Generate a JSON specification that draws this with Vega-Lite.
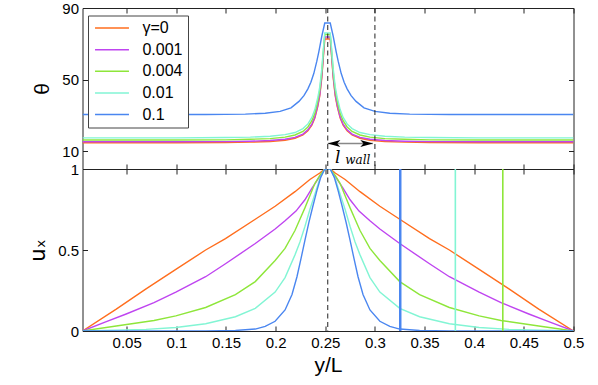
{
  "$schema": "https://vega.github.io/schema/vega-lite/v6.json",
  "padding": {"left": 26.5, "top": 0, "right": 5, "bottom": 0},
  "spacing": 0,
  "bounds": "flush",
  "config": {
    "view": {"stroke": "#222", "strokeWidth": 1},
    "font": "Liberation Sans",
    "axis": {"grid": false, "domain": false, "minExtent": 0, "maxExtent": 200, "labelFlush": false, "tickSize": -5, "tickColor": "#222", "tickWidth": 1, "labelFont": "Liberation Sans", "labelFontSize": 15, "labelColor": "#000", "titleFont": "Liberation Sans", "titleFontWeight": "normal", "titleColor": "#000"},
    "legend": {"labelFont": "Liberation Sans"}
  },
  "datasets": {
    "theta": [
      {"series": "γ=0", "yL": 0.0055, "theta": 14.7}, {"series": "γ=0", "yL": 0.0995, "theta": 14.7}, {"series": "γ=0", "yL": 0.1495, "theta": 14.8}, {"series": "γ=0", "yL": 0.1745, "theta": 15.0}, {"series": "γ=0", "yL": 0.1945, "theta": 15.4}, {"series": "γ=0", "yL": 0.2095, "theta": 16.1}, {"series": "γ=0", "yL": 0.2195, "theta": 17.2}, {"series": "γ=0", "yL": 0.2275, "theta": 19.0}, {"series": "γ=0", "yL": 0.2325, "theta": 21.3}, {"series": "γ=0", "yL": 0.2365, "theta": 24.5}, {"series": "γ=0", "yL": 0.2395, "theta": 28.5}, {"series": "γ=0", "yL": 0.2425, "theta": 35.0}, {"series": "γ=0", "yL": 0.2445, "theta": 41.0}, {"series": "γ=0", "yL": 0.2465, "theta": 51.0}, {"series": "γ=0", "yL": 0.248, "theta": 62.0}, {"series": "γ=0", "yL": 0.2495, "theta": 72.7},
      {"series": "γ=0", "yL": 0.255, "theta": 72.7}, {"series": "γ=0", "yL": 0.2565, "theta": 62.0}, {"series": "γ=0", "yL": 0.258, "theta": 51.0}, {"series": "γ=0", "yL": 0.26, "theta": 41.0}, {"series": "γ=0", "yL": 0.262, "theta": 35.0}, {"series": "γ=0", "yL": 0.265, "theta": 28.5}, {"series": "γ=0", "yL": 0.268, "theta": 24.5}, {"series": "γ=0", "yL": 0.272, "theta": 21.3}, {"series": "γ=0", "yL": 0.277, "theta": 19.0}, {"series": "γ=0", "yL": 0.285, "theta": 17.2}, {"series": "γ=0", "yL": 0.295, "theta": 16.1}, {"series": "γ=0", "yL": 0.31, "theta": 15.4}, {"series": "γ=0", "yL": 0.33, "theta": 15.0}, {"series": "γ=0", "yL": 0.355, "theta": 14.8}, {"series": "γ=0", "yL": 0.405, "theta": 14.7}, {"series": "γ=0", "yL": 0.5, "theta": 14.7},

      {"series": "0.001", "yL": 0.0055, "theta": 15.2}, {"series": "0.001", "yL": 0.0995, "theta": 15.2}, {"series": "0.001", "yL": 0.1495, "theta": 15.3}, {"series": "0.001", "yL": 0.1745, "theta": 15.5}, {"series": "0.001", "yL": 0.1945, "theta": 15.9}, {"series": "0.001", "yL": 0.2095, "theta": 16.6}, {"series": "0.001", "yL": 0.2195, "theta": 17.7}, {"series": "0.001", "yL": 0.2275, "theta": 19.5}, {"series": "0.001", "yL": 0.2325, "theta": 21.9}, {"series": "0.001", "yL": 0.2365, "theta": 25.1}, {"series": "0.001", "yL": 0.2395, "theta": 29.1}, {"series": "0.001", "yL": 0.2425, "theta": 35.7}, {"series": "0.001", "yL": 0.2445, "theta": 41.7}, {"series": "0.001", "yL": 0.2465, "theta": 51.9}, {"series": "0.001", "yL": 0.248, "theta": 63.0}, {"series": "0.001", "yL": 0.2495, "theta": 73.8},
      {"series": "0.001", "yL": 0.255, "theta": 73.8}, {"series": "0.001", "yL": 0.2565, "theta": 63.0}, {"series": "0.001", "yL": 0.258, "theta": 51.9}, {"series": "0.001", "yL": 0.26, "theta": 41.7}, {"series": "0.001", "yL": 0.262, "theta": 35.7}, {"series": "0.001", "yL": 0.265, "theta": 29.1}, {"series": "0.001", "yL": 0.268, "theta": 25.1}, {"series": "0.001", "yL": 0.272, "theta": 21.9}, {"series": "0.001", "yL": 0.277, "theta": 19.5}, {"series": "0.001", "yL": 0.285, "theta": 17.7}, {"series": "0.001", "yL": 0.295, "theta": 16.6}, {"series": "0.001", "yL": 0.31, "theta": 15.9}, {"series": "0.001", "yL": 0.33, "theta": 15.5}, {"series": "0.001", "yL": 0.355, "theta": 15.3}, {"series": "0.001", "yL": 0.405, "theta": 15.2}, {"series": "0.001", "yL": 0.5, "theta": 15.2},

      {"series": "0.004", "yL": 0.0055, "theta": 16.2}, {"series": "0.004", "yL": 0.0995, "theta": 16.2}, {"series": "0.004", "yL": 0.1495, "theta": 16.3}, {"series": "0.004", "yL": 0.1745, "theta": 16.6}, {"series": "0.004", "yL": 0.1945, "theta": 17.0}, {"series": "0.004", "yL": 0.2095, "theta": 17.8}, {"series": "0.004", "yL": 0.2195, "theta": 19.0}, {"series": "0.004", "yL": 0.2275, "theta": 21.0}, {"series": "0.004", "yL": 0.2325, "theta": 23.5}, {"series": "0.004", "yL": 0.2365, "theta": 27.0}, {"series": "0.004", "yL": 0.2395, "theta": 31.2}, {"series": "0.004", "yL": 0.2425, "theta": 38.0}, {"series": "0.004", "yL": 0.2445, "theta": 44.2}, {"series": "0.004", "yL": 0.2465, "theta": 54.3}, {"series": "0.004", "yL": 0.248, "theta": 65.2}, {"series": "0.004", "yL": 0.2495, "theta": 75.2},
      {"series": "0.004", "yL": 0.255, "theta": 75.2}, {"series": "0.004", "yL": 0.2565, "theta": 65.2}, {"series": "0.004", "yL": 0.258, "theta": 54.3}, {"series": "0.004", "yL": 0.26, "theta": 44.2}, {"series": "0.004", "yL": 0.262, "theta": 38.0}, {"series": "0.004", "yL": 0.265, "theta": 31.2}, {"series": "0.004", "yL": 0.268, "theta": 27.0}, {"series": "0.004", "yL": 0.272, "theta": 23.5}, {"series": "0.004", "yL": 0.277, "theta": 21.0}, {"series": "0.004", "yL": 0.285, "theta": 19.0}, {"series": "0.004", "yL": 0.295, "theta": 17.8}, {"series": "0.004", "yL": 0.31, "theta": 17.0}, {"series": "0.004", "yL": 0.33, "theta": 16.6}, {"series": "0.004", "yL": 0.355, "theta": 16.3}, {"series": "0.004", "yL": 0.405, "theta": 16.2}, {"series": "0.004", "yL": 0.5, "theta": 16.2},

      {"series": "0.01", "yL": 0.0055, "theta": 17.4}, {"series": "0.01", "yL": 0.0995, "theta": 17.4}, {"series": "0.01", "yL": 0.1495, "theta": 17.6}, {"series": "0.01", "yL": 0.1745, "theta": 17.8}, {"series": "0.01", "yL": 0.1945, "theta": 18.3}, {"series": "0.01", "yL": 0.2095, "theta": 19.2}, {"series": "0.01", "yL": 0.2195, "theta": 20.4}, {"series": "0.01", "yL": 0.2275, "theta": 22.6}, {"series": "0.01", "yL": 0.2325, "theta": 25.2}, {"series": "0.01", "yL": 0.2365, "theta": 28.8}, {"series": "0.01", "yL": 0.2395, "theta": 33.2}, {"series": "0.01", "yL": 0.2425, "theta": 40.0}, {"series": "0.01", "yL": 0.2445, "theta": 46.1}, {"series": "0.01", "yL": 0.2465, "theta": 56.1}, {"series": "0.01", "yL": 0.248, "theta": 66.6}, {"series": "0.01", "yL": 0.2495, "theta": 76.0},
      {"series": "0.01", "yL": 0.255, "theta": 76.0}, {"series": "0.01", "yL": 0.2565, "theta": 66.6}, {"series": "0.01", "yL": 0.258, "theta": 56.1}, {"series": "0.01", "yL": 0.26, "theta": 46.1}, {"series": "0.01", "yL": 0.262, "theta": 40.0}, {"series": "0.01", "yL": 0.265, "theta": 33.2}, {"series": "0.01", "yL": 0.268, "theta": 28.8}, {"series": "0.01", "yL": 0.272, "theta": 25.2}, {"series": "0.01", "yL": 0.277, "theta": 22.6}, {"series": "0.01", "yL": 0.285, "theta": 20.4}, {"series": "0.01", "yL": 0.295, "theta": 19.2}, {"series": "0.01", "yL": 0.31, "theta": 18.3}, {"series": "0.01", "yL": 0.33, "theta": 17.8}, {"series": "0.01", "yL": 0.355, "theta": 17.6}, {"series": "0.01", "yL": 0.405, "theta": 17.4}, {"series": "0.01", "yL": 0.5, "theta": 17.4},

      {"series": "0.1", "yL": 0.0055, "theta": 30.5}, {"series": "0.1", "yL": 0.1295, "theta": 30.5}, {"series": "0.1", "yL": 0.1695, "theta": 30.7}, {"series": "0.1", "yL": 0.1895, "theta": 31.2}, {"series": "0.1", "yL": 0.2045, "theta": 32.2}, {"series": "0.1", "yL": 0.2155, "theta": 34.2}, {"series": "0.1", "yL": 0.2235, "theta": 37.8}, {"series": "0.1", "yL": 0.2285, "theta": 41.0}, {"series": "0.1", "yL": 0.2325, "theta": 44.8}, {"series": "0.1", "yL": 0.2355, "theta": 48.5}, {"series": "0.1", "yL": 0.2385, "theta": 53.5}, {"series": "0.1", "yL": 0.2415, "theta": 60.3}, {"series": "0.1", "yL": 0.2435, "theta": 65.5}, {"series": "0.1", "yL": 0.2465, "theta": 74.2}, {"series": "0.1", "yL": 0.2495, "theta": 81.6},
      {"series": "0.1", "yL": 0.255, "theta": 81.6}, {"series": "0.1", "yL": 0.258, "theta": 74.2}, {"series": "0.1", "yL": 0.261, "theta": 65.5}, {"series": "0.1", "yL": 0.263, "theta": 60.3}, {"series": "0.1", "yL": 0.266, "theta": 53.5}, {"series": "0.1", "yL": 0.269, "theta": 48.5}, {"series": "0.1", "yL": 0.272, "theta": 44.8}, {"series": "0.1", "yL": 0.276, "theta": 41.0}, {"series": "0.1", "yL": 0.281, "theta": 37.8}, {"series": "0.1", "yL": 0.289, "theta": 34.2}, {"series": "0.1", "yL": 0.3, "theta": 32.2}, {"series": "0.1", "yL": 0.315, "theta": 31.2}, {"series": "0.1", "yL": 0.335, "theta": 30.7}, {"series": "0.1", "yL": 0.375, "theta": 30.5}, {"series": "0.1", "yL": 0.5, "theta": 30.5}
    ],
    "ux": [
      {"series": "γ=0", "yL": 0.0055, "ux": 0}, {"series": "γ=0", "yL": 0.0395, "ux": 0.135}, {"series": "γ=0", "yL": 0.0695, "ux": 0.26}, {"series": "γ=0", "yL": 0.0995, "ux": 0.38}, {"series": "γ=0", "yL": 0.1295, "ux": 0.5}, {"series": "γ=0", "yL": 0.1495, "ux": 0.57}, {"series": "γ=0", "yL": 0.1795, "ux": 0.69}, {"series": "γ=0", "yL": 0.1995, "ux": 0.77}, {"series": "γ=0", "yL": 0.2195, "ux": 0.86}, {"series": "γ=0", "yL": 0.2345, "ux": 0.935}, {"series": "γ=0", "yL": 0.2445, "ux": 0.975}, {"series": "γ=0", "yL": 0.2495, "ux": 1},
      {"series": "γ=0", "yL": 0.255, "ux": 1}, {"series": "γ=0", "yL": 0.26, "ux": 0.975}, {"series": "γ=0", "yL": 0.27, "ux": 0.935}, {"series": "γ=0", "yL": 0.285, "ux": 0.86}, {"series": "γ=0", "yL": 0.305, "ux": 0.77}, {"series": "γ=0", "yL": 0.325, "ux": 0.69}, {"series": "γ=0", "yL": 0.355, "ux": 0.57}, {"series": "γ=0", "yL": 0.375, "ux": 0.5}, {"series": "γ=0", "yL": 0.405, "ux": 0.38}, {"series": "γ=0", "yL": 0.435, "ux": 0.26}, {"series": "γ=0", "yL": 0.465, "ux": 0.135}, {"series": "γ=0", "yL": 0.5, "ux": 0},

      {"series": "0.001", "yL": 0.0055, "ux": 0}, {"series": "0.001", "yL": 0.0295, "ux": 0.058}, {"series": "0.001", "yL": 0.0495, "ux": 0.105}, {"series": "0.001", "yL": 0.0775, "ux": 0.175}, {"series": "0.001", "yL": 0.0995, "ux": 0.24}, {"series": "0.001", "yL": 0.1295, "ux": 0.335}, {"series": "0.001", "yL": 0.1495, "ux": 0.415}, {"series": "0.001", "yL": 0.1795, "ux": 0.54}, {"series": "0.001", "yL": 0.1995, "ux": 0.63}, {"series": "0.001", "yL": 0.2095, "ux": 0.68}, {"series": "0.001", "yL": 0.2205, "ux": 0.74}, {"series": "0.001", "yL": 0.2295, "ux": 0.81}, {"series": "0.001", "yL": 0.2365, "ux": 0.88}, {"series": "0.001", "yL": 0.2445, "ux": 0.955}, {"series": "0.001", "yL": 0.2495, "ux": 1},
      {"series": "0.001", "yL": 0.255, "ux": 1}, {"series": "0.001", "yL": 0.26, "ux": 0.955}, {"series": "0.001", "yL": 0.268, "ux": 0.88}, {"series": "0.001", "yL": 0.275, "ux": 0.81}, {"series": "0.001", "yL": 0.284, "ux": 0.74}, {"series": "0.001", "yL": 0.295, "ux": 0.68}, {"series": "0.001", "yL": 0.305, "ux": 0.63}, {"series": "0.001", "yL": 0.325, "ux": 0.54}, {"series": "0.001", "yL": 0.355, "ux": 0.415}, {"series": "0.001", "yL": 0.375, "ux": 0.335}, {"series": "0.001", "yL": 0.405, "ux": 0.24}, {"series": "0.001", "yL": 0.427, "ux": 0.175}, {"series": "0.001", "yL": 0.455, "ux": 0.105}, {"series": "0.001", "yL": 0.475, "ux": 0.058}, {"series": "0.001", "yL": 0.5, "ux": 0},

      {"series": "0.004", "yL": 0.0055, "ux": 0}, {"series": "0.004", "yL": 0.0395, "ux": 0.031}, {"series": "0.004", "yL": 0.0775, "ux": 0.065}, {"series": "0.004", "yL": 0.0995, "ux": 0.093}, {"series": "0.004", "yL": 0.1295, "ux": 0.145}, {"series": "0.004", "yL": 0.1595, "ux": 0.225}, {"series": "0.004", "yL": 0.1795, "ux": 0.305}, {"series": "0.004", "yL": 0.1995, "ux": 0.435}, {"series": "0.004", "yL": 0.2095, "ux": 0.51}, {"series": "0.004", "yL": 0.2195, "ux": 0.62}, {"series": "0.004", "yL": 0.2295, "ux": 0.76}, {"series": "0.004", "yL": 0.2345, "ux": 0.835}, {"series": "0.004", "yL": 0.2395, "ux": 0.91}, {"series": "0.004", "yL": 0.2445, "ux": 0.96}, {"series": "0.004", "yL": 0.2495, "ux": 1},
      {"series": "0.004", "yL": 0.255, "ux": 1}, {"series": "0.004", "yL": 0.26, "ux": 0.96}, {"series": "0.004", "yL": 0.265, "ux": 0.91}, {"series": "0.004", "yL": 0.27, "ux": 0.835}, {"series": "0.004", "yL": 0.275, "ux": 0.76}, {"series": "0.004", "yL": 0.285, "ux": 0.62}, {"series": "0.004", "yL": 0.295, "ux": 0.51}, {"series": "0.004", "yL": 0.305, "ux": 0.435}, {"series": "0.004", "yL": 0.325, "ux": 0.305}, {"series": "0.004", "yL": 0.345, "ux": 0.225}, {"series": "0.004", "yL": 0.375, "ux": 0.145}, {"series": "0.004", "yL": 0.405, "ux": 0.093}, {"series": "0.004", "yL": 0.427, "ux": 0.065}, {"series": "0.004", "yL": 0.465, "ux": 0.031}, {"series": "0.004", "yL": 0.5, "ux": 0},

      {"series": "0.01", "yL": 0.0055, "ux": 0}, {"series": "0.01", "yL": 0.0695, "ux": 0.01}, {"series": "0.01", "yL": 0.0995, "ux": 0.022}, {"series": "0.01", "yL": 0.1295, "ux": 0.045}, {"series": "0.01", "yL": 0.1595, "ux": 0.088}, {"series": "0.01", "yL": 0.1795, "ux": 0.14}, {"series": "0.01", "yL": 0.1995, "ux": 0.24}, {"series": "0.01", "yL": 0.2095, "ux": 0.33}, {"series": "0.01", "yL": 0.2195, "ux": 0.47}, {"series": "0.01", "yL": 0.2245, "ux": 0.55}, {"series": "0.01", "yL": 0.2295, "ux": 0.645}, {"series": "0.01", "yL": 0.2345, "ux": 0.75}, {"series": "0.01", "yL": 0.2395, "ux": 0.845}, {"series": "0.01", "yL": 0.2445, "ux": 0.94}, {"series": "0.01", "yL": 0.2495, "ux": 1},
      {"series": "0.01", "yL": 0.255, "ux": 1}, {"series": "0.01", "yL": 0.26, "ux": 0.94}, {"series": "0.01", "yL": 0.265, "ux": 0.845}, {"series": "0.01", "yL": 0.27, "ux": 0.75}, {"series": "0.01", "yL": 0.275, "ux": 0.645}, {"series": "0.01", "yL": 0.28, "ux": 0.55}, {"series": "0.01", "yL": 0.285, "ux": 0.47}, {"series": "0.01", "yL": 0.295, "ux": 0.33}, {"series": "0.01", "yL": 0.305, "ux": 0.24}, {"series": "0.01", "yL": 0.325, "ux": 0.14}, {"series": "0.01", "yL": 0.345, "ux": 0.088}, {"series": "0.01", "yL": 0.375, "ux": 0.045}, {"series": "0.01", "yL": 0.405, "ux": 0.022}, {"series": "0.01", "yL": 0.435, "ux": 0.01}, {"series": "0.01", "yL": 0.5, "ux": 0},

      {"series": "0.1", "yL": 0.0055, "ux": 0}, {"series": "0.1", "yL": 0.1295, "ux": 0}, {"series": "0.1", "yL": 0.1595, "ux": 0.003}, {"series": "0.1", "yL": 0.1795, "ux": 0.012}, {"series": "0.1", "yL": 0.1895, "ux": 0.028}, {"series": "0.1", "yL": 0.1995, "ux": 0.06}, {"series": "0.1", "yL": 0.2095, "ux": 0.13}, {"series": "0.1", "yL": 0.2165, "ux": 0.225}, {"series": "0.1", "yL": 0.2215, "ux": 0.335}, {"series": "0.1", "yL": 0.2255, "ux": 0.445}, {"series": "0.1", "yL": 0.2295, "ux": 0.56}, {"series": "0.1", "yL": 0.2335, "ux": 0.67}, {"series": "0.1", "yL": 0.2375, "ux": 0.77}, {"series": "0.1", "yL": 0.2415, "ux": 0.865}, {"series": "0.1", "yL": 0.2455, "ux": 0.95}, {"series": "0.1", "yL": 0.2495, "ux": 1},
      {"series": "0.1", "yL": 0.255, "ux": 1}, {"series": "0.1", "yL": 0.259, "ux": 0.95}, {"series": "0.1", "yL": 0.263, "ux": 0.865}, {"series": "0.1", "yL": 0.267, "ux": 0.77}, {"series": "0.1", "yL": 0.271, "ux": 0.67}, {"series": "0.1", "yL": 0.275, "ux": 0.56}, {"series": "0.1", "yL": 0.279, "ux": 0.445}, {"series": "0.1", "yL": 0.283, "ux": 0.335}, {"series": "0.1", "yL": 0.288, "ux": 0.225}, {"series": "0.1", "yL": 0.295, "ux": 0.13}, {"series": "0.1", "yL": 0.305, "ux": 0.06}, {"series": "0.1", "yL": 0.315, "ux": 0.028}, {"series": "0.1", "yL": 0.325, "ux": 0.012}, {"series": "0.1", "yL": 0.345, "ux": 0.003}, {"series": "0.1", "yL": 0.375, "ux": 0}, {"series": "0.1", "yL": 0.5, "ux": 0}
    ],
    "topDashes": [{"yL": 0.2525}, {"yL": 0.3}],
    "bottomDashes": [{"yL": 0.2525}],
    "arrow": [{"from": 0.2525, "to": 0.298, "theta": 14.3}],
    "heads": [{"yL": 0.2525, "theta": 14.3, "dir": "left"}, {"yL": 0.298, "theta": 14.3, "dir": "right"}],
    "lbl": [{"yL": 0.2626, "theta": 3.5, "text": "l"}],
    "sub": [{"yL": 0.2701, "theta": 3.0, "text": "wall"}],
    "lengths": [{"series": "0.1", "yL": 0.3255}, {"series": "0.01", "yL": 0.381}, {"series": "0.004", "yL": 0.4288}]
  },
  "vconcat": [
    {
      "width": 491,
      "height": 161,
      "layer": [
        {
          "data": {"name": "theta"},
          "mark": {"type": "line", "strokeWidth": 1.4, "clip": true},
          "encoding": {
            "x": {"field": "yL", "type": "quantitative", "scale": {"domain": [0.0055, 0.5], "nice": false, "zero": false},
                  "axis": {"orient": "bottom", "labels": false, "title": null, "values": [0.05, 0.1, 0.15, 0.2, 0.25, 0.3, 0.35, 0.4, 0.45, 0.5]}},
            "y": {"field": "theta", "type": "quantitative", "scale": {"domain": [0, 90], "nice": false, "zero": false},
                  "axis": {"orient": "left", "values": [10, 50, 90], "labelPadding": 9, "title": "θ", "titleFontSize": 21, "titleX": -40, "titleBaseline": "middle"}},
            "color": {"field": "series", "type": "nominal",
                      "scale": {"domain": ["γ=0", "0.001", "0.004", "0.01", "0.1"], "range": ["#FF6E1E", "#BF45F0", "#8EE63A", "#82F5D4", "#4A86F0"]},
                      "legend": {"orient": "none", "legendX": 5.5, "legendY": 7.5, "title": null, "padding": 4.6, "fillColor": "#fff", "strokeColor": "#444",
                                 "symbolType": "M-4,0L4,0", "symbolSize": 72, "symbolStrokeWidth": 1.5, "symbolOffset": 11.4, "labelOffset": 22.4,
                                 "labelExpr": "datum.label + '\u00a0\u00a0'",
                                 "labelFontSize": 16, "labelFont": "Liberation Sans", "labelColor": "#000", "rowPadding": 5.6}}
          }
        },
        {
          "data": {"name": "topDashes"},
          "mark": {"type": "rule", "strokeDash": [5, 3.5], "color": "#222", "strokeWidth": 1},
          "encoding": {
            "x": {"field": "yL", "type": "quantitative", "axis": {"orient": "top", "labels": false, "title": null, "values": [0.05, 0.1, 0.15, 0.2, 0.25, 0.3, 0.35, 0.4, 0.45, 0.5]}}
          }
        },
        {
          "data": {"name": "arrow"},
          "mark": {"type": "rule", "color": "#888", "strokeWidth": 1.5},
          "encoding": {
            "x": {"field": "from", "type": "quantitative", "axis": null},
            "x2": {"field": "to"},
            "y": {"field": "theta", "type": "quantitative", "axis": {"orient": "right", "labels": false, "title": null, "values": [10, 50, 90]}}
          }
        },
        {
          "data": {"name": "heads"},
          "mark": {"type": "point", "filled": true, "opacity": 1, "color": "#000", "size": 160},
          "encoding": {
            "x": {"field": "yL", "type": "quantitative", "axis": null},
            "y": {"field": "theta", "type": "quantitative", "axis": null},
            "shape": {"field": "dir", "type": "nominal", "scale": {"domain": ["left", "right"], "range": ["M0,0L2,-0.55L1.5,0L2,0.55Z", "M0,0L-2,-0.55L-1.5,0L-2,0.55Z"]}, "legend": null}
          }
        },
        {
          "data": {"name": "lbl"},
          "mark": {"type": "text", "font": "DejaVu Serif", "fontStyle": "italic", "fontSize": 17, "align": "center", "baseline": "alphabetic", "color": "#000"},
          "encoding": {
            "x": {"field": "yL", "type": "quantitative", "axis": null},
            "y": {"field": "theta", "type": "quantitative", "axis": null},
            "text": {"field": "text"}
          }
        },
        {
          "data": {"name": "sub"},
          "mark": {"type": "text", "font": "DejaVu Serif", "fontStyle": "italic", "fontSize": 12, "align": "left", "baseline": "alphabetic", "color": "#000"},
          "encoding": {
            "x": {"field": "yL", "type": "quantitative", "axis": null},
            "y": {"field": "theta", "type": "quantitative", "axis": null},
            "text": {"field": "text"}
          }
        }
      ],
      "resolve": {"axis": {"x": "independent", "y": "independent"}}
    },
    {
      "width": 491,
      "height": 162,
      "layer": [
        {
          "data": {"name": "ux"},
          "mark": {"type": "line", "strokeWidth": 1.4, "clip": true},
          "encoding": {
            "x": {"field": "yL", "type": "quantitative", "scale": {"domain": [0.0055, 0.5], "nice": false, "zero": false},
                  "axis": {"orient": "bottom", "values": [0.05, 0.1, 0.15, 0.2, 0.25, 0.3, 0.35, 0.4, 0.45, 0.5], "format": "~g", "labelPadding": 9.5,
                           "title": "y/L", "titleFontSize": 21, "titleY": 34, "titleBaseline": "middle"}},
            "y": {"field": "ux", "type": "quantitative", "scale": {"domain": [0, 1], "nice": false},
                  "axis": {"orient": "left", "values": [0, 0.5, 1], "format": "~g", "labelPadding": 9, "title": "uₓ", "titleFont": "DejaVu Sans", "titleFontSize": 21, "titleX": -44, "titleBaseline": "middle"}},
            "color": {"field": "series", "type": "nominal",
                      "scale": {"domain": ["γ=0", "0.001", "0.004", "0.01", "0.1"], "range": ["#FF6E1E", "#BF45F0", "#8EE63A", "#82F5D4", "#4A86F0"]},
                      "legend": null}
          }
        },
        {
          "data": {"name": "bottomDashes"},
          "mark": {"type": "rule", "strokeDash": [5, 3.5], "color": "#222", "strokeWidth": 1},
          "encoding": {
            "x": {"field": "yL", "type": "quantitative", "axis": {"orient": "top", "labels": false, "title": null, "values": [0.05, 0.1, 0.15, 0.2, 0.25, 0.3, 0.35, 0.4, 0.45, 0.5]}}
          }
        },
        {
          "data": {"name": "lengths"},
          "mark": {"type": "rule"},
          "encoding": {
            "x": {"field": "yL", "type": "quantitative", "axis": null},
            "y": {"datum": 0, "type": "quantitative", "axis": {"orient": "right", "labels": false, "title": null, "values": [0, 0.5, 1]}},
            "y2": {"datum": 1},
            "color": {"field": "series", "type": "nominal", "legend": null},
            "strokeWidth": {"condition": {"test": "datum.series === '0.1'", "value": 2.5}, "value": 1.6}
          }
        }
      ],
      "resolve": {"axis": {"x": "independent", "y": "independent"}}
    }
  ],
  "resolve": {"scale": {"color": "independent"}}
}
